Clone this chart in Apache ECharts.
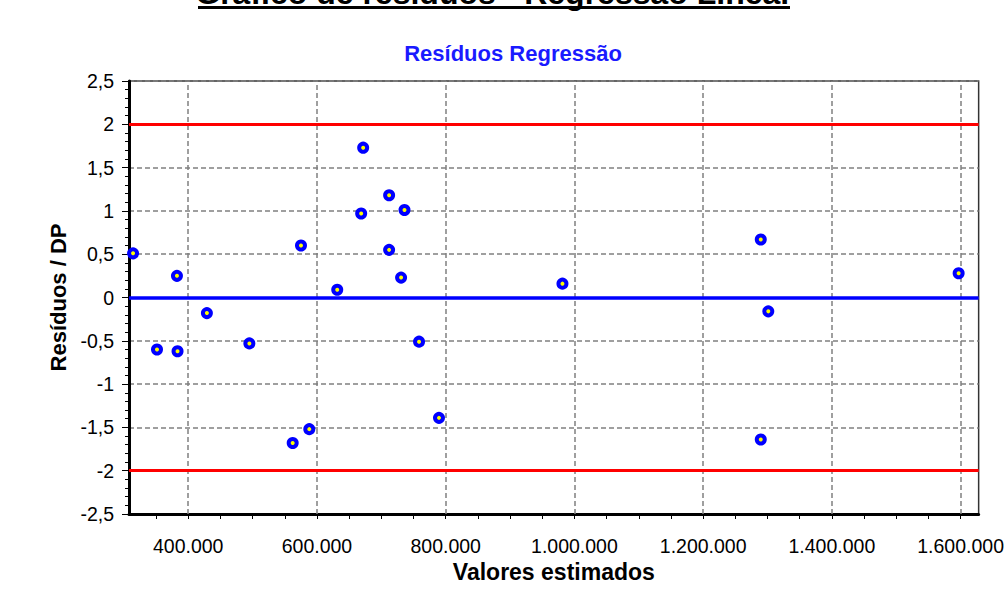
<!DOCTYPE html>
<html>
<head>
<meta charset="utf-8">
<script src="https://cdn.jsdelivr.net/npm/echarts@6/dist/echarts.min.js"></script>
<style>
html,body{margin:0;padding:0;background:#fff;}
#chart{width:1007px;height:601px;}
</style>
</head>
<body>
<div id="chart"></div>
<script>
// Data
const valoresEstimados = [314300, 351500, 382500, 383400, 429000, 495000, 562300, 588100, 575200, 631500, 671800, 668700, 712100, 712100, 736000, 730700, 758600, 789600, 981400, 1289500, 1301200, 1289500, 1596900];
const residuosDP = [0.51, -0.60, 0.25, -0.62, -0.18, -0.53, -1.68, -1.52, 0.60, 0.09, 1.73, 0.97, 1.18, 0.55, 1.01, 0.23, -0.51, -1.39, 0.16, 0.67, -0.16, -1.64, 0.28];
const limites = [2, -2];
const linhaZero = [0];
const xTickLabels = [400000, 600000, 800000, 1000000, 1200000, 1400000, 1600000];
const xTicks = [350000, 400000, 450000, 500000, 550000, 600000, 650000, 700000, 750000, 800000, 850000, 900000, 950000, 1000000, 1050000, 1100000, 1150000, 1200000, 1250000, 1300000, 1350000, 1400000, 1450000, 1500000, 1550000, 1600000];
const xMin = 308000, xMax = 1628000;
const yMin = -2.5, yMax = 2.5, yInterval = 0.5;

const points = valoresEstimados.map((x, i) => [x, residuosDP[i]]);
const fmtX = v => String(Math.round(v)).replace(/\B(?=(\d{3})+(?!\d))/g, '.');
const fmtY = v => String(Math.round(v * 10) / 10).replace('.', ',');

const chart = echarts.init(document.getElementById('chart'), null, {renderer: 'svg'});
const tickFont = "'Liberation Sans Narrow', 'Liberation Sans', Arial, sans-serif";
chart.setOption({
  animation: false,
  backgroundColor: '#fff',
  graphic: [
    {type: 'text', x: 494, y: -7, z: 10,
     style: {text: 'Gráfico de resíduos - Regressão Linear', font: "bold 32px 'Liberation Sans'", fill: '#000', textAlign: 'center', textVerticalAlign: 'middle'}},
    {type: 'rect', shape: {x: 198, y: 6, width: 592, height: 3}, style: {fill: '#000'}, z: 10},
    {type: 'text', x: 513, y: 53, z: 10,
     style: {text: 'Resíduos Regressão', font: "bold 22px 'Liberation Sans'", fill: '#1a1aff', textAlign: 'center', textVerticalAlign: 'middle'}}
  ],
  grid: {left: 129, right: 27, top: 81, bottom: 87, show: true, borderColor: '#333333', borderWidth: 1.5, backgroundColor: 'transparent'},
  xAxis: {
    type: 'value', min: xMin, max: xMax,
    name: 'Valores estimados', nameLocation: 'middle', nameGap: 45,
    nameTextStyle: {fontFamily: 'Liberation Sans', fontWeight: 'bold', fontSize: 23, color: '#000'},
    axisLine: {show: true, onZero: false, lineStyle: {color: '#000', width: 3}},
    axisTick: {show: true, length: 5, customValues: xTicks, lineStyle: {color: '#000', width: 1}},
    axisLabel: {customValues: xTickLabels, formatter: fmtX, margin: 22, fontFamily: tickFont, fontSize: 19.5, color: '#000'},
    splitLine: {show: false},
    minorTick: {show: false}
  },
  yAxis: {
    type: 'value', min: yMin, max: yMax, interval: yInterval,
    name: 'Resíduos / DP', nameLocation: 'middle', nameGap: 58, nameRotate: 90,
    nameTextStyle: {fontFamily: 'Liberation Sans', fontWeight: 'bold', fontSize: 22, color: '#000'},
    axisLine: {show: true, onZero: false, lineStyle: {color: '#000', width: 3}},
    axisTick: {show: true, length: 7, lineStyle: {color: '#000', width: 1}},
    minorTick: {show: true, splitNumber: 5, length: 4, lineStyle: {color: '#000', width: 1}},
    axisLabel: {formatter: fmtY, margin: 15, fontFamily: tickFont, fontSize: 19.5, color: '#000'},
    splitLine: {show: true, lineStyle: {color: '#808080', width: 1.5, type: [5, 3]}}
  },
  series: [
    {
      type: 'line', data: [], z: 1, silent: true,
      markLine: {symbol: 'none', silent: true, label: {show: false},
        lineStyle: {color: '#808080', width: 1.5, type: [5, 3]},
        data: xTickLabels.map(v => ({xAxis: v}))}
    },
    {
      type: 'line', data: [], z: 2, silent: true,
      markLine: {symbol: 'none', silent: true, label: {show: false},
        lineStyle: {color: '#ff0000', width: 3, type: 'solid'},
        data: limites.map(v => ({yAxis: v}))}
    },
    {
      type: 'line', data: [], z: 2, silent: true,
      markLine: {symbol: 'none', silent: true, label: {show: false},
        lineStyle: {color: '#0000ff', width: 3.5, type: 'solid'},
        data: linhaZero.map(v => ({yAxis: v}))}
    },
    {
      type: 'scatter', data: points, z: 5,
      symbol: 'circle', symbolSize: 8,
      itemStyle: {color: '#ffff00', borderColor: '#0000ff', borderWidth: 4, opacity: 1}
    }
  ]
});
</script>
</body>
</html>
